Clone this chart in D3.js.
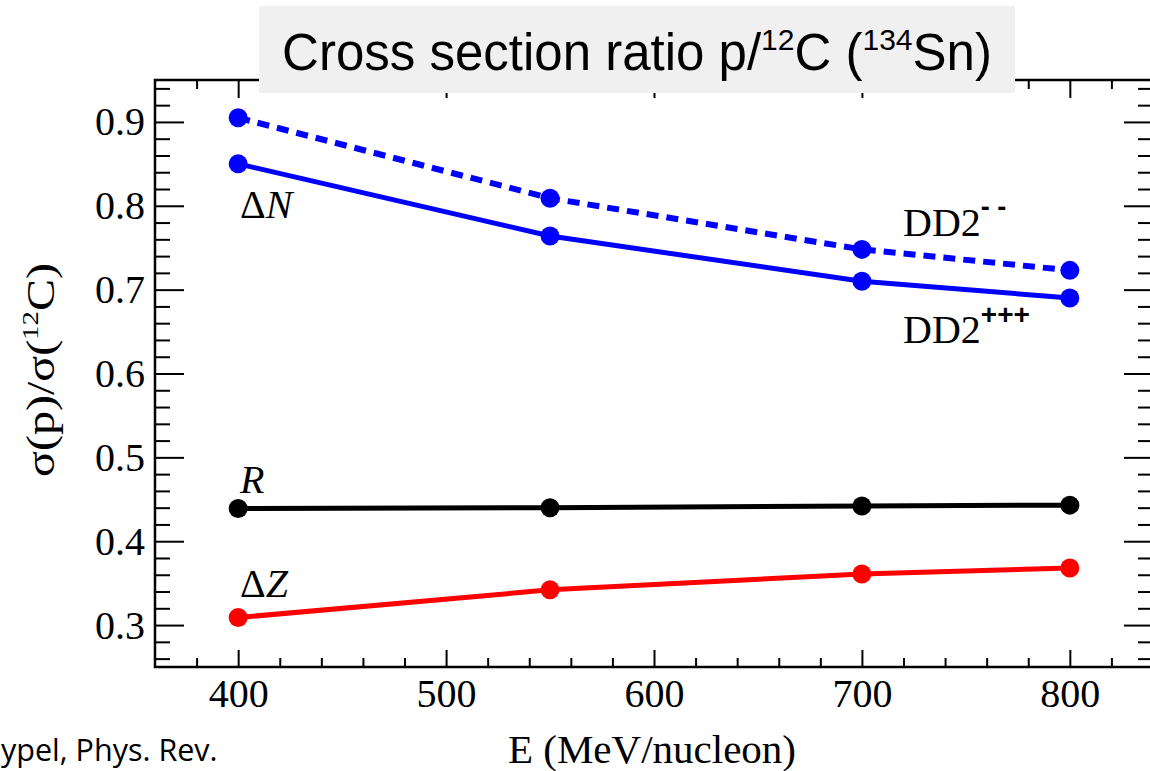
<!DOCTYPE html>
<html>
<head>
<meta charset="utf-8">
<script src="https://cdn.jsdelivr.net/npm/d3@7"></script>
<style>
  html, body { margin: 0; padding: 0; background: #fff; overflow: hidden; }
  svg { display: block; }
</style>
</head>
<body>
<svg id="chart" width="1150" height="771"></svg>
<script>
// Beam energies (MeV/nucleon) and cross-section ratios sigma(p)/sigma(12C) for 134Sn
const energies = [400, 550, 700, 800];
const dd2Minus = [0.905, 0.809, 0.748, 0.723];   // DD2-- (dashed)
const dd2Plus  = [0.850, 0.764, 0.710, 0.690];   // DD2+++ / ΔN (solid)
const ratioR   = [0.439, 0.440, 0.442, 0.443];   // R
const deltaZ   = [0.309, 0.342, 0.361, 0.368];   // ΔZ

const xMajorTicks = [400, 500, 600, 700, 800];
const yMajorTicks = [0.3, 0.4, 0.5, 0.6, 0.7, 0.8, 0.9];
const xDomain = [360, 840];
const yDomain = [0.25, 0.95];

const svg = d3.select("#chart");
const serif = "'Liberation Serif', 'Times New Roman', serif";
const sans = "'Liberation Sans', Arial, sans-serif";

const x = d3.scaleLinear().domain(xDomain).range([155, 1153]);
const y = d3.scaleLinear().domain(yDomain).range([667, 80]);

const xMinor = d3.range(380, 841, 20).filter(v => !xMajorTicks.includes(v));
const yMinor = d3.range(0.26, 0.945, 0.02).map(v => +v.toFixed(2))
  .filter(v => !yMajorTicks.some(t => Math.abs(t - v) < 1e-6));

// Inward ticks on all four sides of the frame
function tickAxis(axis) {
  return g => {
    g.call(axis);
    g.select(".domain").remove();
    g.selectAll("line").attr("stroke", "#000").attr("stroke-width", 2);
    g.selectAll("text").remove();
  };
}
const plot = svg.append("g");

plot.append("g").attr("transform", `translate(0,${y.range()[0]})`)
  .call(tickAxis(d3.axisTop(x).tickValues(xMajorTicks).tickSize(17)));
plot.append("g").attr("transform", `translate(0,${y.range()[0]})`)
  .call(tickAxis(d3.axisTop(x).tickValues(xMinor).tickSize(9)));
plot.append("g").attr("transform", `translate(0,${y.range()[1]})`)
  .call(tickAxis(d3.axisBottom(x).tickValues(xMajorTicks).tickSize(18)));
plot.append("g").attr("transform", `translate(0,${y.range()[1]})`)
  .call(tickAxis(d3.axisBottom(x).tickValues(xMinor).tickSize(9)));

plot.append("g").attr("transform", `translate(${x.range()[0]},0)`)
  .call(tickAxis(d3.axisRight(y).tickValues(yMajorTicks).tickSize(29)));
plot.append("g").attr("transform", `translate(${x.range()[0]},0)`)
  .call(tickAxis(d3.axisRight(y).tickValues(yMinor).tickSize(15)));
plot.append("g").attr("transform", `translate(${x.range()[1]},0)`)
  .call(tickAxis(d3.axisLeft(y).tickValues(yMajorTicks).tickSize(29)));
plot.append("g").attr("transform", `translate(${x.range()[1]},0)`)
  .call(tickAxis(d3.axisLeft(y).tickValues(yMinor).tickSize(15)));

// Frame
plot.append("rect")
  .attr("x", x.range()[0]).attr("y", y.range()[1])
  .attr("width", x.range()[1] - x.range()[0])
  .attr("height", y.range()[0] - y.range()[1])
  .attr("fill", "none").attr("stroke", "#000").attr("stroke-width", 2.5);

// Tick labels
const xLabelAxis = d3.axisBottom(x).tickValues(xMajorTicks).tickSize(0).tickPadding(0);
const gxl = svg.append("g").attr("transform", `translate(0,${y.range()[0]})`).call(xLabelAxis);
gxl.select(".domain").remove();
gxl.selectAll("text")
  .attr("y", 40).attr("dy", 0)
  .attr("font-family", serif).attr("font-size", 40).attr("fill", "#000");

const yLabelAxis = d3.axisLeft(y).tickValues(yMajorTicks).tickSize(0).tickPadding(0)
  .tickFormat(d3.format(".1f"));
const gyl = svg.append("g").attr("transform", `translate(145,0)`).call(yLabelAxis);
gyl.select(".domain").remove();
gyl.selectAll("text")
  .attr("x", 0).attr("dy", 13)
  .attr("font-family", serif).attr("font-size", 40).attr("fill", "#000");

// Series
const series = [
  { values: dd2Minus, color: "#0000ff", dash: "12,8", width: 6 },
  { values: dd2Plus,  color: "#0000ff", dash: null,   width: 5 },
  { values: ratioR,   color: "#000000", dash: null,   width: 5 },
  { values: deltaZ,   color: "#ff0000", dash: null,   width: 5 },
];
const line = d3.line().x(d => x(d[0])).y(d => y(d[1]));

series.forEach(s => {
  const pts = energies.map((e, i) => [e, s.values[i]]);
  svg.append("path")
    .datum(pts)
    .attr("d", line)
    .attr("fill", "none")
    .attr("stroke", s.color)
    .attr("stroke-width", s.width)
    .attr("stroke-dasharray", s.dash);
  svg.append("g").selectAll("circle")
    .data(pts).join("circle")
    .attr("cx", d => x(d[0])).attr("cy", d => y(d[1]))
    .attr("r", 9.5).attr("fill", s.color);
});

// Series labels
function label(xp, yp, parts) {
  const t = svg.append("text").attr("x", xp).attr("y", yp)
    .attr("font-family", serif).attr("font-size", 40).attr("fill", "#000");
  parts.forEach(p => {
    const ts = t.append("tspan").text(p.text);
    if (p.italic) ts.attr("font-style", "italic");
    if (p.size) ts.attr("font-size", p.size);
    if (p.dy) ts.attr("dy", p.dy);
    if (p.weight) ts.attr("font-weight", p.weight);
    if (p.family) ts.attr("font-family", p.family);
  });
  return t;
}
label(240, 218, [{ text: "Δ" }, { text: "N", italic: true }]);
label(240, 493, [{ text: "R", italic: true }]);
label(240, 597, [{ text: "Δ" }, { text: "Z", italic: true }]);
label(903, 236, [{ text: "DD2" }, { text: "- -", size: 27, dy: -20, weight: "bold", family: sans }]);
label(903, 343, [{ text: "DD2" }, { text: "+++", size: 28, dy: -19, weight: "bold", family: sans }]);

// Axis titles
svg.append("text")
  .attr("x", 652).attr("y", 763)
  .attr("text-anchor", "middle")
  .attr("font-family", serif).attr("font-size", 41)
  .text("E (MeV/nucleon)");

const yt = svg.append("text")
  .attr("transform", "translate(54,370) rotate(-90) scale(1.2,1)")
  .attr("text-anchor", "middle")
  .attr("font-family", serif).attr("font-size", 40);
yt.append("tspan").text("σ(p)/σ(");
yt.append("tspan").text("12").attr("font-size", 24).attr("dy", -16);
yt.append("tspan").text("C)").attr("dy", 16);

// Title banner
svg.append("rect")
  .attr("x", 259).attr("y", 6).attr("width", 756).attr("height", 87)
  .attr("fill", "#f0f0f0");
const title = svg.append("text")
  .attr("x", 637).attr("y", 70)
  .attr("text-anchor", "middle")
  .attr("font-family", sans)
  .attr("font-size", 51).attr("fill", "#000");
title.append("tspan").text("Cross section ratio p/");
title.append("tspan").text("12").attr("font-size", 30).attr("dy", -20);
title.append("tspan").text("C (").attr("dy", 20);
title.append("tspan").text("134").attr("font-size", 30).attr("dy", -20);
title.append("tspan").text("Sn)").attr("dy", 20);

// Citation fragment at the lower-left corner
svg.append("text")
  .attr("x", 1).attr("y", 761)
  .attr("font-family", "'Open Sans', Lato, sans-serif")
  .attr("font-size", 30.5).attr("fill", "#000")
  .text("ypel, Phys. Rev.");
</script>
</body>
</html>
